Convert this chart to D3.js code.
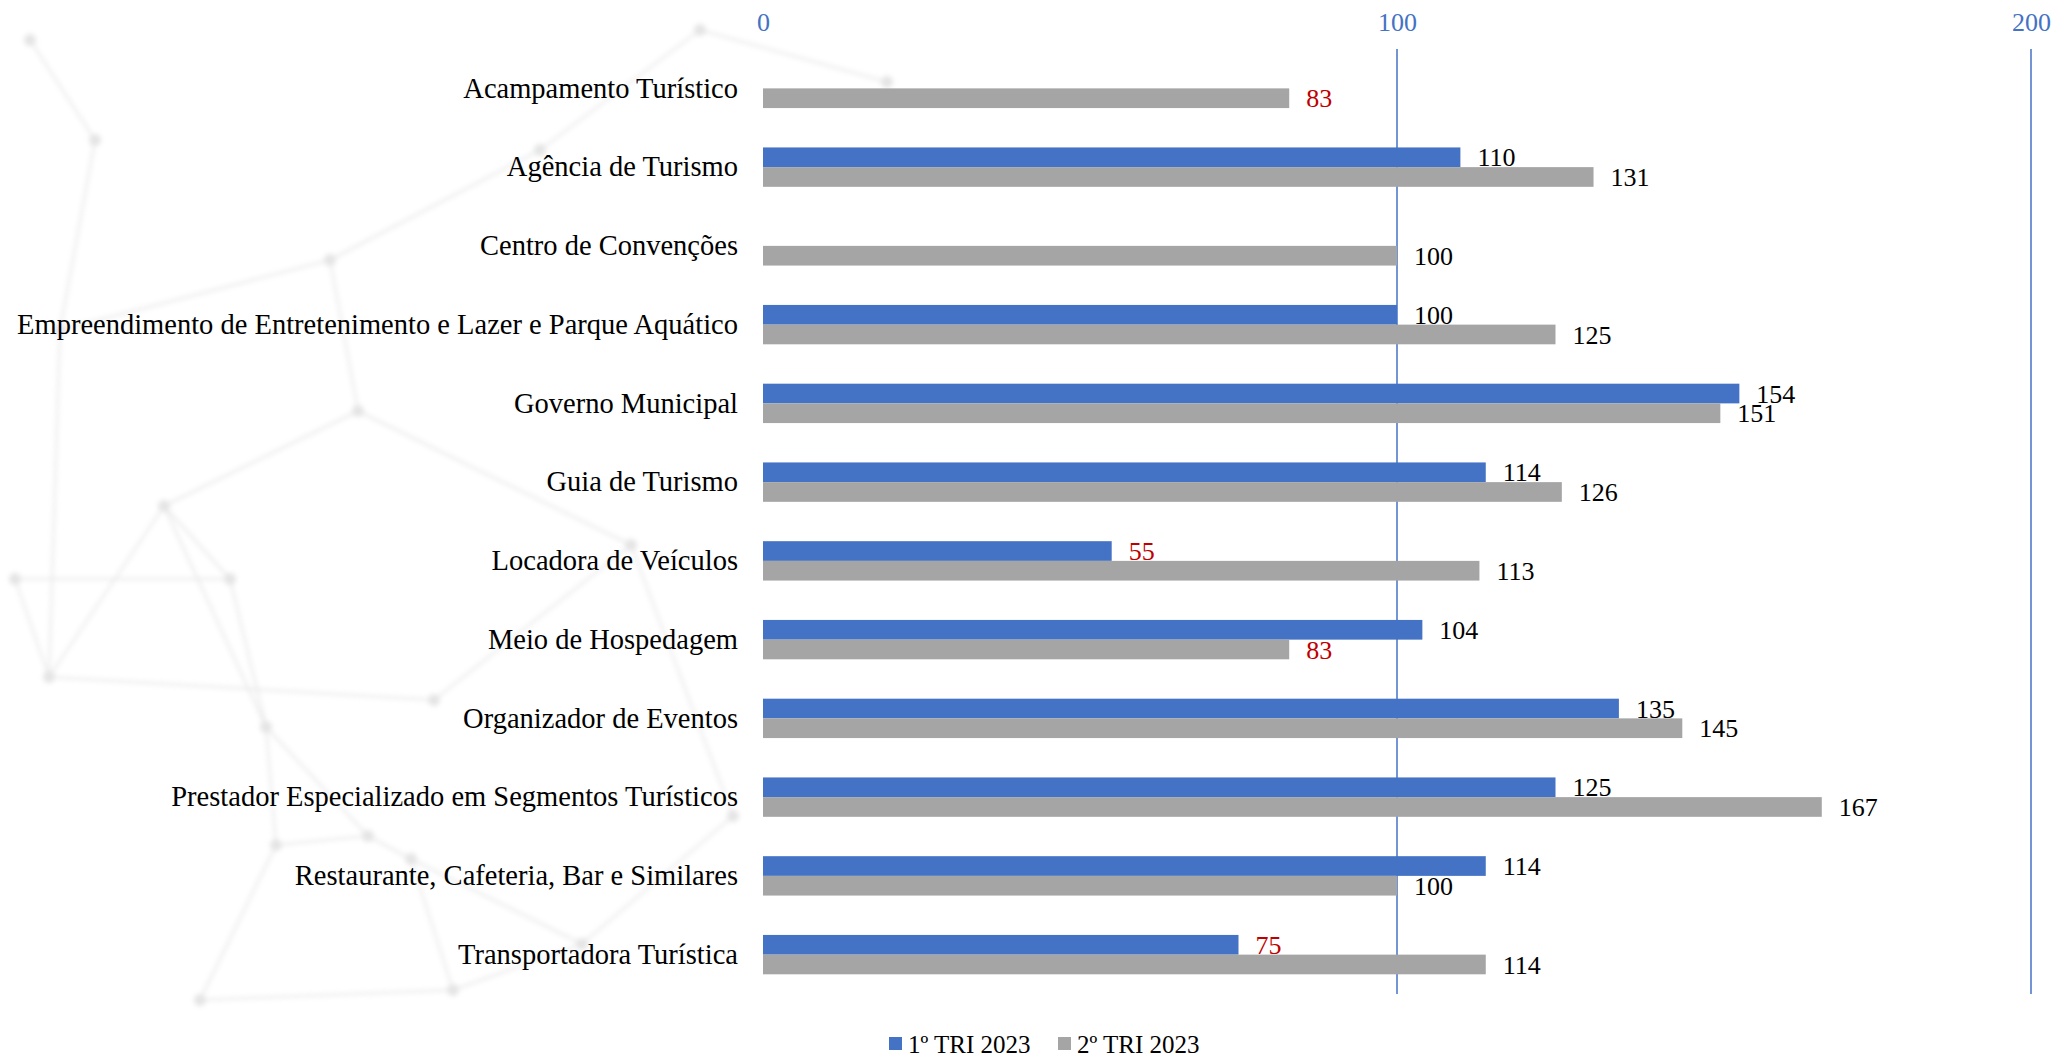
<!DOCTYPE html>
<html>
    <head>
        <title>Índice por segmento - 1º e 2º TRI 2023</title>
        <style>
            body { margin: 0; background: #ffffff; }
        </style>
    </head>
    <body>
        <script src='https://cdnjs.cloudflare.com/ajax/libs/d3/7.8.5/d3.min.js'></script>
        <script>
            const categories = [
                'Acampamento Turístico',
                'Agência de Turismo',
                'Centro de Convenções',
                'Empreendimento de Entretenimento e Lazer e Parque Aquático',
                'Governo Municipal',
                'Guia de Turismo',
                'Locadora de Veículos',
                'Meio de Hospedagem',
                'Organizador de Eventos',
                'Prestador Especializado em Segmentos Turísticos',
                'Restaurante, Cafeteria, Bar e Similares',
                'Transportadora Turística'
            ];
            const tri1 = [null, 110, null, 100, 154, 114, 55, 104, 135, 125, 114, 75];
            const tri2 = [83, 131, 100, 125, 151, 126, 113, 83, 145, 167, 100, 114];
            const seriesNames = ['1º TRI 2023', '2º TRI 2023'];
            const seriesColors = ['#4472C4', '#A5A5A5'];
            const tickValues = [0, 100, 200];

            // faint network picture behind the chart (decoration only)
            const bgNodes = [
                [30, 40], [95, 140], [60, 330], [49, 677], [164, 506], [358, 411],
                [434, 700], [631, 545], [15, 579], [230, 579], [266, 727], [276, 845],
                [368, 836], [411, 859], [453, 990], [582, 944], [733, 816], [200, 1000],
                [887, 82], [700, 30], [540, 150], [330, 260]
            ];
            const bgLinks = [
                [0, 1], [1, 2], [2, 3], [3, 4], [4, 5], [5, 7], [7, 6], [6, 3], [3, 8],
                [8, 9], [9, 10], [10, 11], [11, 12], [12, 13], [13, 14], [14, 15], [15, 16],
                [16, 7], [10, 4], [11, 17], [17, 14], [13, 15], [18, 19], [19, 20], [20, 21],
                [21, 5], [21, 2], [9, 4], [12, 10]
            ];

            const serif = '"Liberation Serif", "Times New Roman", "DejaVu Serif", serif';
            const width = 2059;
            const height = 1060;
            const margin = {left: 763, right: 28, top: 49, bottom: 66};

            const svg = d3
                .select('body')
                .append('svg')
                .attr('width', width)
                .attr('height', height)
                .style('font-family', serif);

            svg.append('defs')
                .append('filter')
                .attr('id', 'soft')
                .append('feGaussianBlur')
                .attr('stdDeviation', 2.5);

            const bg = svg.append('g')
                .attr('filter', 'url(#soft)')
                .attr('opacity', 0.3);

            bg.selectAll('line')
                .data(bgLinks)
                .enter()
                .append('line')
                .attr('x1', (d)=>bgNodes[d[0]][0])
                .attr('y1', (d)=>bgNodes[d[0]][1])
                .attr('x2', (d)=>bgNodes[d[1]][0])
                .attr('y2', (d)=>bgNodes[d[1]][1])
                .attr('stroke', '#b0b0b0')
                .attr('stroke-width', 2);

            bg.selectAll('circle')
                .data(bgNodes)
                .enter()
                .append('circle')
                .attr('cx', (d)=>d[0])
                .attr('cy', (d)=>d[1])
                .attr('r', 6)
                .attr('fill', '#a8a8a8');

            const x = d3
                .scaleLinear()
                .domain([0, 200])
                .range([margin.left, width - margin.right]);

            const y = d3
                .scaleBand()
                .domain(categories)
                .range([margin.top, height - margin.bottom])
                .paddingInner(0.5)
                .paddingOuter(0.25);

            const ySeries = d3
                .scaleBand()
                .domain(seriesNames)
                .range([0, y.bandwidth()]);

            // gridlines (no line at 0)
            svg.append('g')
                .selectAll('line')
                .data(tickValues.filter((d)=>d > 0))
                .enter()
                .append('line')
                .attr('x1', (d)=>x(d))
                .attr('x2', (d)=>x(d))
                .attr('y1', margin.top)
                .attr('y2', height - margin.bottom)
                .attr('stroke', '#4472C4')
                .attr('stroke-width', 1.5);

            const xAxis = d3
                .axisTop(x)
                .tickValues(tickValues)
                .tickSize(0)
                .tickPadding(0);

            const xAxisG = svg.append('g')
                .attr('transform', 'translate(0, 31)')
                .call(xAxis);
            xAxisG.select('.domain').remove();
            xAxisG.selectAll('text')
                .style('font-family', serif)
                .style('font-size', '26px')
                .attr('fill', '#4472C4');

            const yAxis = d3
                .axisLeft(y)
                .tickSize(0)
                .tickPadding(25);

            const yAxisG = svg.append('g')
                .attr('transform', 'translate(' + margin.left + ', 0)')
                .call(yAxis);
            yAxisG.select('.domain').remove();
            yAxisG.selectAll('text')
                .style('font-family', serif)
                .style('font-size', '28.5px')
                .attr('fill', '#000000');

            const rows = categories.map((c, i)=>({category: c, values: [tri1[i], tri2[i]]}));

            const groups = svg.append('g')
                .selectAll('g')
                .data(rows)
                .enter()
                .append('g')
                .attr('transform', (d)=>'translate(0,' + y(d.category) + ')');

            const cells = groups
                .selectAll('g')
                .data((d)=>d.values.map((v, j)=>({series: seriesNames[j], value: v, color: seriesColors[j]})).filter((d)=>d.value !== null))
                .enter()
                .append('g');

            cells.append('rect')
                .attr('x', x(0))
                .attr('y', (d)=>ySeries(d.series))
                .attr('width', (d)=>x(d.value) - x(0))
                .attr('height', ySeries.bandwidth())
                .attr('fill', (d)=>d.color);

            cells.append('text')
                .attr('x', (d)=>x(d.value) + 17)
                .attr('y', (d)=>ySeries(d.series) + ySeries.bandwidth() / 2)
                .attr('dy', '0.35em')
                .style('font-size', '26px')
                .attr('fill', (d)=>d.value < 100 ? '#C00000' : '#000000')
                .text((d)=>d.value);

            // legend
            const legend = svg.append('g')
                .attr('transform', 'translate(889, 1044)');

            const legendItems = legend
                .selectAll('g')
                .data(seriesNames)
                .enter()
                .append('g')
                .attr('transform', (d, i)=>'translate(' + (i * 169) + ', 0)');

            legendItems.append('rect')
                .attr('x', 0)
                .attr('y', -7)
                .attr('width', 13)
                .attr('height', 13)
                .attr('fill', (d, i)=>seriesColors[i]);

            legendItems.append('text')
                .attr('x', 19)
                .attr('y', 0)
                .attr('dy', '0.35em')
                .style('font-size', '25px')
                .attr('fill', '#000000')
                .text((d)=>d);
        </script>
    </body>
</html>
